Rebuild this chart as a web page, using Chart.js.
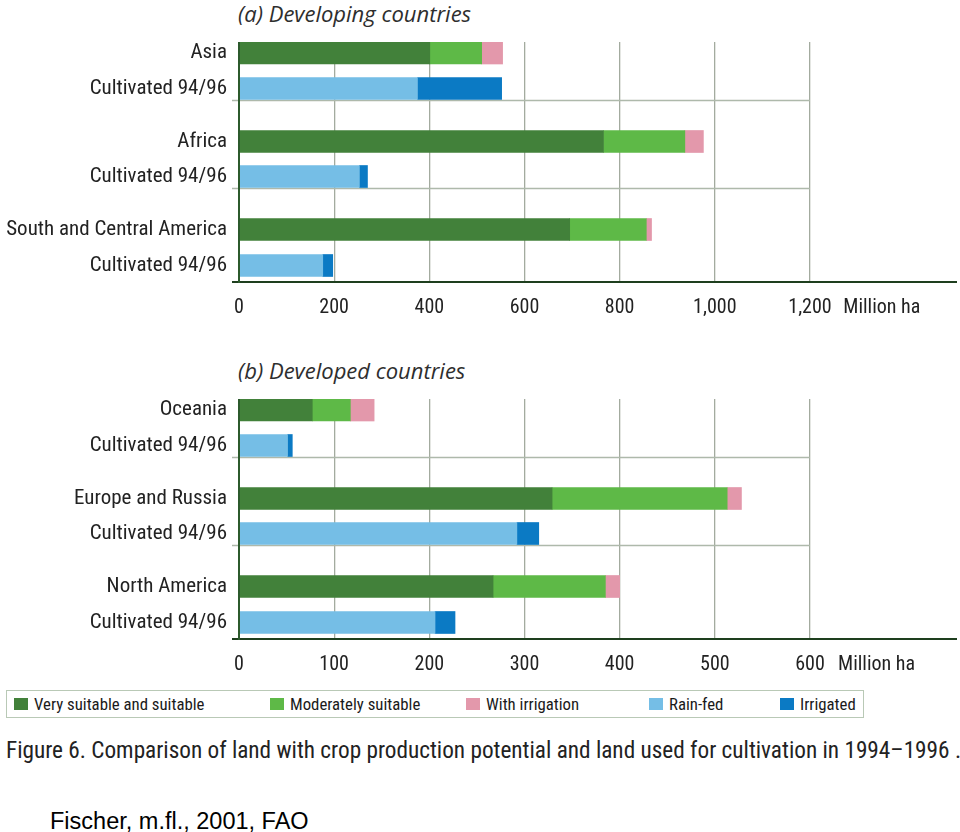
<!DOCTYPE html>
<html>
<head>
<meta charset="utf-8">
<script src="https://cdn.jsdelivr.net/npm/chart.js@4.4.1/dist/chart.umd.min.js"></script>
<style>
  html, body { margin: 0; padding: 0; background: #fff; }
  #wrap { position: relative; width: 960px; height: 832px; overflow: hidden; }
  .panel { position: absolute; left: 0; width: 960px; height: 330px; }
  .ptitle { position: absolute; left: 238px; font-family: 'Open Sans', 'Noto Sans', sans-serif; font-style: italic; font-size: 22px; color: #2e2e2e; line-height: 26px; white-space: nowrap; }
  #legend { position: absolute; left: 6px; top: 690px; width: 856px; height: 26px; border: 1.5px solid #b9c9b6; }
  .litem { position: absolute; top: 0; height: 26px; display: flex; align-items: center; font-family: 'Roboto Condensed', sans-serif; font-size: 16.8px; color: #1a1a1a; white-space: nowrap; }
  .lsw { width: 14px; height: 12px; margin-right: 6px; }
  #caption { position: absolute; left: 6px; top: 736px; font-family: 'Roboto Condensed', sans-serif; font-size: 23.25px; color: #222; white-space: nowrap; line-height: 28px; }
  #credit { position: absolute; left: 50px; top: 808px; font-family: 'Liberation Sans', Arial, sans-serif; font-size: 23.5px; color: #000; white-space: nowrap; line-height: 26px; }
</style>
</head>
<body>
<div id="wrap">
  <div class="ptitle" style="top:0px">(a) Developing countries</div>
  <div class="panel" style="top:0px"><canvas id="chartA" width="960" height="330"></canvas></div>
  <div class="ptitle" style="top:357px">(b) Developed countries</div>
  <div class="panel" style="top:357px"><canvas id="chartB" width="960" height="330"></canvas></div>
  <div id="legend"></div>
  <div id="caption">Figure 6. Comparison of land with crop production potential and land used for cultivation in 1994–1996 .</div>
  <div id="credit">Fischer, m.fl., 2001, FAO</div>
</div>
<script>
// ---------------- DATA (million ha) ----------------
const seriesNames = ['Very suitable and suitable', 'Moderately suitable', 'With irrigation', 'Rain-fed', 'Irrigated'];
const cultivatedLabel = 'Cultivated 94/96';
const unitLabel = 'Million ha';

// (a) Developing countries
const regionsA = ['Asia', 'Africa', 'South and Central America'];
const verySuitableA = [401, 766, 695];
const moderatelyA = [109, 171, 161];
const withIrrigationA = [44, 39, 11];
const rainFedA = [375, 253, 176];
const irrigatedA = [177, 17, 21];
const tickValuesA = [0, 200, 400, 600, 800, 1000, 1200];

// (b) Developed countries
const regionsB = ['Oceania', 'Europe and Russia', 'North America'];
const verySuitableB = [77, 329, 267];
const moderatelyB = [40, 184, 118];
const withIrrigationB = [25, 15, 15];
const rainFedB = [51, 292, 206];
const irrigatedB = [5, 23, 21];
const tickValuesB = [0, 100, 200, 300, 400, 500, 600];

// ---------------- STYLE / LAYOUT ----------------
const seriesColors = ['#42813a', '#5eb947', '#e398ab', '#75bee6', '#0b7ac4'];
const FONT = "'Roboto Condensed', 'Roboto', sans-serif";
const ROW_POS = [11, 46.5, 99.5, 134.5, 187.5, 223.5]; // row centres in the 0..240 band
const SEPARATORS = [57.5, 145.5];
const BAND = 240;

Chart.defaults.font.family = FONT;
Chart.defaults.color = '#222';

const framePlugin = {
  id: 'frame',
  beforeDatasetsDraw(chart) {
    const { ctx, scales } = chart;
    const xs = scales.x, ys = scales.y;
    const gridEnd = xs.getPixelForValue(chart.options.gridEnd);
    ctx.save();
    ctx.strokeStyle = '#aeb9ab';
    ctx.lineWidth = 1.3;
    SEPARATORS.forEach(v => {
      const y = Math.round(ys.getPixelForValue(v)) + 0.5;
      ctx.beginPath();
      ctx.moveTo(xs.getPixelForValue(0) - 7, y);
      ctx.lineTo(gridEnd, y);
      ctx.stroke();
    });
    ctx.restore();
  },
  afterDatasetsDraw(chart) {
    const { ctx, chartArea, scales } = chart;
    const xs = scales.x;
    ctx.save();
    ctx.strokeStyle = '#1e3f1e';
    ctx.lineWidth = 2;
    ctx.beginPath();
    ctx.moveTo(xs.getPixelForValue(0) - 7, chartArea.bottom);
    ctx.lineTo(chartArea.right, chartArea.bottom);
    ctx.stroke();
    ctx.strokeStyle = '#2c5a2c';
    ctx.beginPath();
    ctx.moveTo(xs.getPixelForValue(0), chartArea.top);
    ctx.lineTo(xs.getPixelForValue(0), chartArea.bottom + 1);
    ctx.stroke();
    ctx.restore();
  }
};

function buildChart(canvasId, regions, pot1, pot2, pot3, cult1, cult2, tickValues, xMax, unitPos) {
  const rowLabels = [];
  regions.forEach(r => { rowLabels.push(r, cultivatedLabel); });
  const potRow = i => ROW_POS[2 * i];
  const cultRow = i => ROW_POS[2 * i + 1];
  const seriesData = [pot1, pot2, pot3, cult1, cult2];
  const datasets = seriesData.map((arr, s) => ({
    label: seriesNames[s],
    backgroundColor: seriesColors[s],
    borderWidth: 0,
    barThickness: 22,
    data: arr.map((v, i) => ({ x: v, y: s < 3 ? potRow(i) : cultRow(i) }))
  }));
  const gridEnd = tickValues[tickValues.length - 1];
  return new Chart(document.getElementById(canvasId), {
    type: 'bar',
    data: { datasets },
    plugins: [framePlugin],
    options: {
      gridEnd: gridEnd,
      indexAxis: 'y',
      responsive: false,
      animation: false,
      layout: { padding: { top: 42, right: 3, left: 0, bottom: 0 } },
      plugins: { legend: { display: false }, tooltip: { enabled: false }, title: { display: false } },
      scales: {
        x: {
          type: 'linear', stacked: true, min: 0, max: xMax, offset: false,
          afterBuildTicks: sc => { sc.ticks = tickValues.concat([unitPos]).map(v => ({ value: v })); },
          afterFit: sc => { sc.height = 48; },
          border: { display: false },
          grid: {
            drawTicks: false,
            offset: false,
            lineWidth: 1.3,
            color: c => (c.tick && c.tick.value > 0 && c.tick.value <= gridEnd) ? '#a3ab9f' : 'rgba(0,0,0,0)'
          },
          ticks: {
            autoSkip: false, maxRotation: 0, padding: 14,
            font: { size: 20, family: FONT }, color: '#222',
            callback: v => v === unitPos ? unitLabel : Number(v).toLocaleString('en-US')
          }
        },
        y: {
          type: 'linear', stacked: true, reverse: true, min: 0, max: BAND, offset: false,
          afterBuildTicks: sc => { sc.ticks = ROW_POS.map(v => ({ value: v })); },
          afterFit: sc => { sc.width = 239; },
          border: { display: false },
          grid: { display: false, drawTicks: false, offset: false },
          ticks: {
            autoSkip: false, padding: 12,
            font: { size: 21, family: FONT }, color: '#222',
            callback: (v, i) => rowLabels[i]
          }
        }
      }
    }
  });
}

buildChart('chartA', regionsA, verySuitableA, moderatelyA, withIrrigationA, rainFedA, irrigatedA, tickValuesA, 1509, 1351);
buildChart('chartB', regionsB, verySuitableB, moderatelyB, withIrrigationB, rainFedB, irrigatedB, tickValuesB, 754.5, 670);

// legend built from series names/colours
const legendX = [7, 263, 459, 642, 773];
const legend = document.getElementById('legend');
seriesNames.forEach((n, i) => {
  const it = document.createElement('div');
  it.className = 'litem';
  it.style.left = legendX[i] + 'px';
  const sw = document.createElement('span');
  sw.className = 'lsw';
  sw.style.background = seriesColors[i];
  const t = document.createElement('span');
  t.textContent = n;
  it.appendChild(sw); it.appendChild(t);
  legend.appendChild(it);
});
</script>
</body>
</html>
